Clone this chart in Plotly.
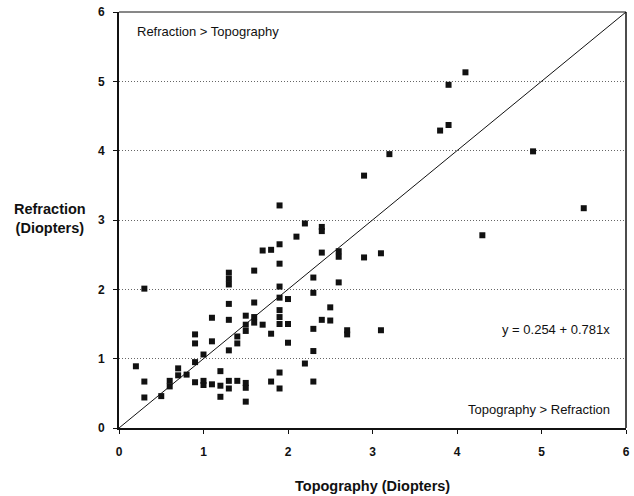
import plotly.graph_objects as go

# Topography (x) and Refraction (y) values, in diopters
topography = [
    0.2,
    0.3, 0.3, 0.3,
    0.5,
    0.6, 0.6,
    0.7, 0.7,
    0.8,
    0.9, 0.9, 0.9, 0.9,
    1.0, 1.0, 1.0,
    1.1, 1.1, 1.1,
    1.2, 1.2, 1.2,
    1.3, 1.3, 1.3, 1.3, 1.3, 1.3, 1.3, 1.3,
    1.4, 1.4, 1.4,
    1.5, 1.5, 1.5, 1.5, 1.5, 1.5,
    1.6, 1.6, 1.6, 1.6,
    1.7, 1.7,
    1.8, 1.8, 1.8,
    1.9, 1.9, 1.9, 1.9, 1.9, 1.9, 1.9, 1.9, 1.9, 1.9,
    2.0, 2.0, 2.0,
    2.1,
    2.2, 2.2,
    2.3, 2.3, 2.3, 2.3, 2.3,
    2.4, 2.4, 2.4, 2.4,
    2.5, 2.5,
    2.6, 2.6, 2.6,
    2.7, 2.7,
    2.9, 2.9,
    3.1, 3.1,
    3.2,
    3.8,
    3.9, 3.9,
    4.1,
    4.3,
    4.9,
    5.5,
]
refraction = [
    0.89,
    2.01, 0.67, 0.44,
    0.46,
    0.60, 0.68,
    0.76, 0.86,
    0.77,
    0.95, 0.66, 1.22, 1.35,
    1.06, 0.62, 0.68,
    1.59, 1.25, 0.63,
    0.82, 0.61, 0.45,
    2.07, 2.15, 2.24, 1.79, 1.56, 1.12, 0.68, 0.57,
    1.22, 1.32, 0.68,
    1.62, 1.40, 1.49, 0.58, 0.65, 0.38,
    2.27, 1.81, 1.52, 1.60,
    2.56, 1.49,
    2.57, 1.36, 0.67,
    3.21, 2.65, 2.37, 2.04, 1.88, 1.50, 1.60, 1.70, 0.80, 0.57,
    1.86, 1.50, 1.23,
    2.76,
    2.95, 0.93,
    2.17, 1.95, 1.43, 1.11, 0.67,
    2.84, 2.90, 2.53, 1.56,
    1.74, 1.55,
    2.47, 2.55, 2.10,
    1.35, 1.41,
    3.64, 2.46,
    2.52, 1.41,
    3.95,
    4.29,
    4.37, 4.95,
    5.13,
    2.78,
    3.99,
    3.17,
]

identity_x = [0, 6]
identity_y = [0, 6]
tick_values = [0, 1, 2, 3, 4, 5, 6]
tick_labels = ["0", "1", "2", "3", "4", "5", "6"]

FONT = "Liberation Sans, Arial, sans-serif"

ML, MR, MT, MB = 119, 8, 12, 68
W, H = 634, 496
plot_w = W - ML - MR
plot_h = H - MT - MB

fig = go.Figure()
fig.add_trace(go.Scatter(
    x=identity_x, y=identity_y, mode="lines",
    line=dict(color="#111111", width=1), hoverinfo="skip", showlegend=False,
))
fig.add_trace(go.Scatter(
    x=topography, y=refraction, mode="markers",
    marker=dict(symbol="square", size=6, color="#111111", line=dict(width=0)),
    showlegend=False,
))

fig.update_layout(
    template="none",
    width=W, height=H,
    margin=dict(l=ML, r=MR, t=MT, b=MB, autoexpand=False),
    paper_bgcolor="white", plot_bgcolor="white",
    font=dict(family=FONT, color="#111111"),
    xaxis=dict(
        range=[0, 6], tickvals=tick_values, ticktext=tick_labels,
        automargin=False,
        showgrid=False, zeroline=False,
        showline=True, linecolor="#111111", linewidth=2,
        ticks="outside", ticklen=4, tickcolor="#111111", tickwidth=1,
        tickfont=dict(family=FONT, size=12, weight="bold", color="#111111"),
        ticklabelstandoff=8,
    ),
    yaxis=dict(
        range=[0, 6], tickvals=tick_values, ticktext=tick_labels,
        automargin=False,
        showgrid=True, gridcolor="#666666", griddash="1px,2px", gridwidth=1,
        zeroline=False,
        showline=True, linecolor="#111111", linewidth=2,
        ticks="outside", ticklen=4, tickcolor="#111111", tickwidth=1,
        tickfont=dict(family=FONT, size=12, weight="bold", color="#111111"),
        ticklabelstandoff=6,
    ),
    shapes=[
        dict(type="line", xref="paper", yref="paper", x0=0, x1=1, y0=1, y1=1,
             line=dict(color="#111111", width=1)),
        dict(type="line", xref="paper", yref="paper", x0=1, x1=1, y0=0, y1=1,
             line=dict(color="#111111", width=1.5)),
    ],
    annotations=[
        dict(text="Refraction > Topography", x=0.19, y=5.72, xref="x", yref="y",
             xanchor="left", yanchor="middle", showarrow=False,
             font=dict(family=FONT, size=13, color="#111111")),
        dict(text="y = 0.254 + 0.781x", x=5.83, y=1.42, xref="x", yref="y",
             xanchor="right", yanchor="middle", showarrow=False,
             font=dict(family=FONT, size=13, color="#111111")),
        dict(text="Topography > Refraction", x=5.83, y=0.27, xref="x", yref="y",
             xanchor="right", yanchor="middle", showarrow=False,
             font=dict(family=FONT, size=13, color="#111111")),
        dict(text="Topography (Diopters)", x=0.5, y=-(486 - (H - MB)) / plot_h,
             xref="paper", yref="paper",
             showarrow=False, xanchor="center", yanchor="middle",
             font=dict(family=FONT, size=14.5, weight="bold", color="#111111")),
        dict(text="Refraction<br>(Diopters)", x=-(ML - 50) / plot_w,
             y=((H - MB) - 218) / plot_h, xref="paper", yref="paper",
             showarrow=False, xanchor="center", yanchor="middle",
             font=dict(family=FONT, size=14.5, weight="bold", color="#111111")),
    ],
)

fig.write_html(
    "out.html",
    config={"displayModeBar": False, "staticPlot": True},
    post_script="document.body.style.margin='0';document.body.style.overflow='hidden';",
)
